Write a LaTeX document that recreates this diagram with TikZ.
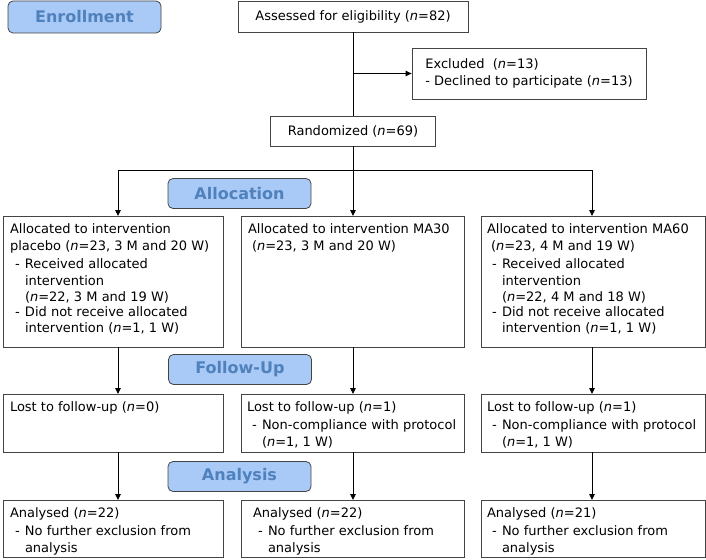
\documentclass[tikz,border=0pt]{standalone}
\usepackage{fontspec}
\setmainfont{DejaVu Sans}
\usetikzlibrary{positioning,arrows.meta,calc}
\definecolor{stagefill}{HTML}{A9C9F6}
\definecolor{stagetext}{HTML}{4F81BD}
\definecolor{boxline}{HTML}{444444}
\newcommand{\nval}{\textit{n}}
\newcommand{\dashitem}[1]{\par\vspace{1.5pt}\noindent\hspace*{5pt}\makebox[10pt][l]{-}\parbox[t]{\dimexpr\linewidth-15pt\relax}{\rightskip=0pt plus 1fil\relax #1}}
\newcommand{\cellbox}[3]{\parbox[t][#1][t]{#2}{\rightskip=0pt plus 1fil\relax\strut #3}}

\begin{document}
\begin{tikzpicture}[x=1pt, y=-1pt, font=\fontsize{13}{16.7}\selectfont,
  >={Triangle[length=6pt, width=5.5pt]},
  stage/.style={draw=boxline, fill=stagefill, rounded corners=5pt, text=stagetext, font=\fontsize{16}{19}\selectfont\bfseries, minimum width=143pt, minimum height=30pt, line width=0.8pt},
  plain/.style={draw=boxline, line width=0.8pt, align=center},
  col/.style={draw=boxline, line width=0.8pt, inner xsep=7pt, inner ysep=6pt, outer sep=0pt},
  flow/.style={->, line width=0.9pt},
  link/.style={line width=0.9pt}]
  \useasboundingbox (0,0) rectangle (706,559);
  % enrollment
  \node[stage, minimum width=153pt, minimum height=32pt] (enrol) at (84.5,17) {Enrollment};
  \node[plain, minimum width=230pt, minimum height=31pt] (assess) at (353,16.5) {Assessed for eligibility (\nval=82)};
  \node[plain, align=left, minimum width=234pt, minimum height=51pt] (excl) at (529,73.5) {Excluded\ \ (\nval=13)\\- Declined to participate (\nval=13)};
  \node[plain, minimum width=165pt, minimum height=30pt] (rand) at (353,131) {Randomized (\nval=69)};
  % stage labels
  \node[stage] (alloc) at (239.5,193.5) {Allocation};
  \node[stage] (follow) at (240,369.5) {Follow-Up};
  \node[stage] (analys) at (239.5,476.5) {Analysis};
  % allocation row
  \node[col, anchor=north west] (al1) at (3,216) {\cellbox{119pt}{206pt}{Allocated to intervention\\placebo (\nval=23, 3 M and 20 W)\dashitem{Received allocated\\intervention\\(\nval=22, 3 M and 19 W)}\dashitem{Did not receive allocated\\intervention (\nval=1, 1 W)}}};
  \node[col, right=18pt of al1] (al2) {\cellbox{119pt}{209pt}{Allocated to intervention MA30\\\hspace*{4pt}(\nval=23, 3 M and 20 W)}};
  \node[col, right=17pt of al2, inner xsep=6pt] (al3) {\cellbox{119pt}{212pt}{Allocated to intervention MA60\\\hspace*{4pt}(\nval=23, 4 M and 19 W)\dashitem{Received allocated\\intervention\\(\nval=22, 4 M and 18 W)}\dashitem{Did not receive allocated\\intervention (\nval=1, 1 W)}}};
  % follow-up row
  \node[col, below=47pt of al1] (fu1) {\cellbox{46pt}{206pt}{Lost to follow-up (\nval=0)}};
  \node[col, below=47pt of al2, inner xsep=6pt] (fu2) {\cellbox{46pt}{211pt}{Lost to follow-up (\nval=1)\dashitem{Non-compliance with protocol\\(\nval=1, 1 W)}}};
  \node[col, below=47pt of al3, inner xsep=6pt] (fu3) {\cellbox{46pt}{212pt}{Lost to follow-up (\nval=1)\dashitem{Non-compliance with protocol\\(\nval=1, 1 W)}}};
  % analysis row
  \node[col, below=48pt of fu1] (an1) {\cellbox{45pt}{206pt}{Analysed (\nval=22)\dashitem{No further exclusion from\\analysis}}};
  \node[col, below=48pt of fu2, inner xsep=12pt] (an2) {\cellbox{45pt}{199pt}{Analysed (\nval=22)\dashitem{No further exclusion from\\analysis}}};
  \node[col, below=48pt of fu3, inner xsep=6pt] (an3) {\cellbox{45pt}{212pt}{Analysed (\nval=21)\dashitem{No further exclusion from\\analysis}}};
  % flows
  \coordinate (split) at (353,170);
  \coordinate (splitL) at (118,170);
  \coordinate (splitR) at (592,170);
  \draw[link] (assess.south) -- (rand.north);
  \coordinate (exc) at (assess.south |- excl.west);
  \draw[flow] (exc) -- (excl.west);
  \draw[flow] (rand.south) -- (split |- al2.north);
  \draw[flow] (split) -- (splitL) -- (splitL |- al1.north);
  \draw[flow] (split) -- (splitR) -- (splitR |- al3.north);
  \foreach \i/\s in {1/splitL,2/split,3/splitR} {
    \draw[flow] (\s |- al\i.south) -- (\s |- fu\i.north);
    \draw[flow] (\s |- fu\i.south) -- (\s |- an\i.north);
  }
\end{tikzpicture}
\end{document}
